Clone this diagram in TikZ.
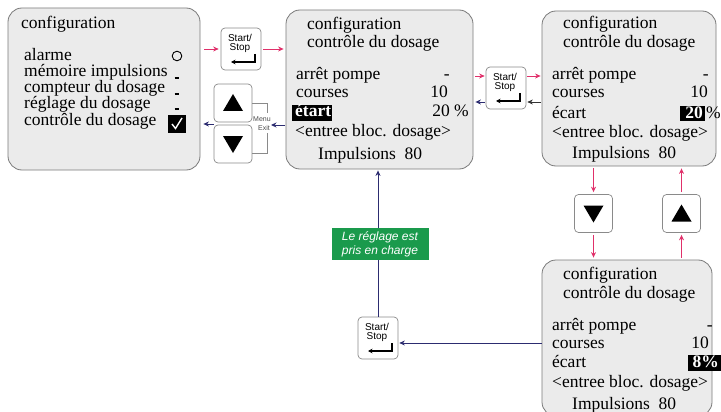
\documentclass[tikz,border=0pt]{standalone}
\usepackage{fontspec}
\setmainfont{Liberation Serif}
\setsansfont{Liberation Sans}
\usetikzlibrary{arrows.meta}
\definecolor{panelfill}{HTML}{EBEBEB}
\definecolor{panelline}{HTML}{7A7A7A}
\definecolor{ared}{HTML}{E0306A}
\definecolor{anavy}{HTML}{2C2C70}
\definecolor{agreen}{HTML}{1A9A4C}
\definecolor{keyline}{HTML}{8A8A8A}
\tikzset{
 panel/.style={draw=panelline, fill=panelfill, line width=0.8pt, rounded corners=14pt, inner sep=0pt},
 keybox/.style={draw=keyline, fill=white, line width=0.7pt, rounded corners=4pt, minimum width=40pt, minimum height=42pt, inner sep=0pt},
 arrkey/.style={draw=keyline, fill=white, line width=0.7pt, rounded corners=4pt, minimum width=38pt, minimum height=38pt, inner sep=0pt},
 keytext/.style={font=\sffamily\fontsize{10}{10}\selectfont, inner sep=0pt},
 boxtxt/.style={font=\fontsize{17.5}{17.5}\selectfont, inner sep=0pt, anchor=base west},
 valtxt/.style={font=\fontsize{17.5}{17.5}\selectfont, inner sep=0pt, anchor=base east},
 hltxt/.style={font=\bfseries\fontsize{17.5}{17.5}\selectfont, text=white, inner sep=0pt},
 redarr/.style={draw=ared, line width=0.9pt, -{Stealth[length=5.5pt,width=5pt]}},
 navyarr/.style={draw=anavy, line width=0.9pt, -{Stealth[length=5.5pt,width=5pt]}},
 blackarr/.style={draw=black!80, line width=0.9pt, -{Stealth[length=5.5pt,width=5pt]}},
 startstop/.pic={
  \node[keybox] (-box) at (0,0) {};
  \node[keytext] (-l1) at (-1,-11) {Start/};
  \node[keytext] (-l2) at (-1,-1) {Stop};
  \draw[line width=1.2pt, -{Stealth[length=4.5pt,width=4.5pt]}] (14,5) -- (14,13) -- (-10,13);
 }
}
\begin{document}
\begin{tikzpicture}[x=1pt,y=-1pt]
\useasboundingbox (0,0) rectangle (721,412);
\clip (0,0) rectangle (721,412);

% panels
\node[panel, minimum width=192pt, minimum height=162pt] (b1) at (104,89) {};
\node[panel, minimum width=187pt, minimum height=159pt] (b2) at (379.5,89.5) {};
\node[panel, minimum width=174pt, minimum height=155pt] (b3) at (629,88.5) {};
\node[panel, minimum width=170pt, minimum height=156pt] (b4) at (627,338) {};

% box 1 text
\node[boxtxt] (t1a) at (21,29) {configuration};
\node[boxtxt] (t1b) at (24,61) {alarme};
\node[boxtxt] (t1c) at (24,77) {mémoire impulsions};
\node[boxtxt] (t1d) at (24,93) {compteur du dosage};
\node[boxtxt] (t1e) at (24,109) {réglage du dosage};
\node[boxtxt] (t1f) at (24,125) {contrôle du dosage};
\draw[line width=0.9pt] (177,56) circle (4.8pt);
\draw[line width=1.2pt] (174.5,78) -- (178.5,78);
\draw[line width=1.2pt] (174.5,94) -- (178.5,94);
\draw[line width=1.2pt] (174.5,109) -- (178.5,109);
\node[fill=black, minimum width=18pt, minimum height=18pt, inner sep=0pt] (chk) at (177,124) {};
\draw[white, line width=1.4pt] (172,124) -- (175.5,128.5) -- (182,118);

% box 2 text
\node[boxtxt] (t2a) at (307,30) {configuration};
\node[boxtxt] (t2b) at (307,48) {contrôle du dosage};
\node[boxtxt] (t2c) at (296,80) {arrêt pompe};
\node[valtxt] (v2c) at (450,80) {-};
\node[boxtxt] (t2d) at (296,98) {courses};
\node[valtxt] (v2d) at (448,98) {10};
\fill[black] (292,105.5) rectangle (332,121);
\node[hltxt, anchor=base west] (t2e) at (295,117) {étart};
\node[valtxt] (v2e) at (469,117) {20 \%};
\node[boxtxt] (t2f) at (295,136) {\textless entree bloc. dosage\textgreater};
\node[boxtxt] (t2g) at (318,159) {Impulsions~ 80};

% box 3 text
\node[boxtxt] (t3a) at (563,29) {configuration};
\node[boxtxt] (t3b) at (563,48) {contrôle du dosage};
\node[boxtxt] (t3c) at (552,80) {arrêt pompe};
\node[valtxt] (v3c) at (709,80) {-};
\node[boxtxt] (t3d) at (552,98) {courses};
\node[valtxt] (v3d) at (708,98) {10};
\node[boxtxt] (t3e) at (552,118) {écart};
\fill[black] (680,106) rectangle (705,121.5);
\node[hltxt, anchor=base east] (v3e) at (703,118) {20};
\node[boxtxt] (p3e) at (706,118) {\%};
\node[boxtxt] (t3f) at (552,137) {\textless entree bloc. dosage\textgreater};
\node[boxtxt] (t3g) at (572,158) {Impulsions~ 80};

% box 4 text
\node[boxtxt] (t4a) at (563,279) {configuration};
\node[boxtxt] (t4b) at (563,298) {contrôle du dosage};
\node[boxtxt] (t4c) at (552,330) {arrêt pompe};
\node[valtxt] (v4c) at (713,330) {-};
\node[boxtxt] (t4d) at (552,348) {courses};
\node[valtxt] (v4d) at (709,348) {10};
\node[boxtxt] (t4e) at (552,367) {écart};
\fill[black] (688,355) rectangle (721,371);
\node[hltxt, anchor=base east] (v4e) at (719,367) {8\%};
\node[boxtxt] (t4f) at (552,387) {\textless entree bloc. dosage\textgreater};
\node[boxtxt] (t4g) at (572,409) {Impulsions~ 80};

% keys
\pic (k1) at (241,49) {startstop};
\pic (k2) at (506,88) {startstop};
\pic (k3) at (378,338) {startstop};

\node[arrkey] (ku1) at (233,103) {};
\node[arrkey] (kd1) at (233,144) {};
\fill ([shift={(0,-9)}]ku1.center) -- ++(10,17) -- ++(-20,0) -- cycle;
\fill ([shift={(0,9)}]kd1.center) -- ++(10,-17) -- ++(-20,0) -- cycle;
\node[arrkey] (kd2) at (593.5,213.5) {};
\node[arrkey] (ku2) at (681.5,213.5) {};
\fill ([shift={(0,9)}]kd2.center) -- ++(10,-17) -- ++(-20,0) -- cycle;
\fill ([shift={(0,-9)}]ku2.center) -- ++(10,17) -- ++(-20,0) -- cycle;

% Menu/Exit bracket
\draw[keyline, line width=0.6pt] (ku1.east) -- (267,103) -- (267,113);
\draw[keyline, line width=0.6pt] (267,133) -- (267,153) -- (252,153);
\node[keytext, font=\sffamily\fontsize{7}{7}\selectfont, text=black!70] (menu) at (262,119) {Menu};
\node[keytext, font=\sffamily\fontsize{7}{7}\selectfont, text=black!70] (exit) at (264,128) {Exit};

% connectors
\draw[redarr, shorten <=4pt, shorten >=2pt] (b1.east |- k1-box.west) -- (k1-box.west);
\draw[redarr, shorten <=2pt, shorten >=2pt] (k1-box.east) -- (b2.west |- k1-box.east);
\coordinate (mx) at (271,125);
\coordinate (kl) at (214,124);
\draw[navyarr, shorten <=1pt] (b2.west |- mx) -- (mx);
\draw[navyarr, shorten >=3pt] (kl) -- (b1.east |- kl);

\coordinate (k2a) at ([yshift=12pt]k2-box.west);
\coordinate (k2b) at ([yshift=12pt]k2-box.east);
\coordinate (k2c) at ([yshift=-14pt]k2-box.west);
\coordinate (k2d) at ([yshift=-14pt]k2-box.east);
\draw[redarr, shorten <=2pt, shorten >=1pt] (b2.east |- k2a) -- (k2a);
\draw[redarr, shorten <=1pt, shorten >=1pt] (k2b) -- (b3.west |- k2b);
\draw[blackarr, shorten <=1pt, shorten >=1pt] (b3.west |- k2d) -- (k2d);
\draw[navyarr, shorten <=1pt, shorten >=2pt] (k2c) -- (b2.east |- k2c);

\draw[redarr, shorten <=2pt, shorten >=2pt] (b3.south -| kd2) -- (kd2.north);
\draw[redarr, shorten <=2pt, shorten >=2pt] (kd2.south) -- (b4.north -| kd2);
\draw[redarr, shorten <=2pt, shorten >=2pt] (b4.north -| ku2) -- (ku2.south);
\draw[redarr, shorten <=2pt, shorten >=2pt] (ku2.north) -- (b3.south -| ku2);

\coordinate (k3e) at ([yshift=-5pt]k3-box.east);
\draw[navyarr, shorten >=1pt] (b4.west |- k3e) -- (k3e);
\draw[navyarr, shorten >=1pt] (k3-box.north) -- (b2.south -| k3-box.north);

\node[fill=agreen, text=white, font=\sffamily\itshape\fontsize{12}{14}\selectfont, align=center, minimum width=97pt, minimum height=32pt, inner sep=1pt] (lab) at (380,244) {Le réglage est\\pris en charge};
\end{tikzpicture}
\end{document}
